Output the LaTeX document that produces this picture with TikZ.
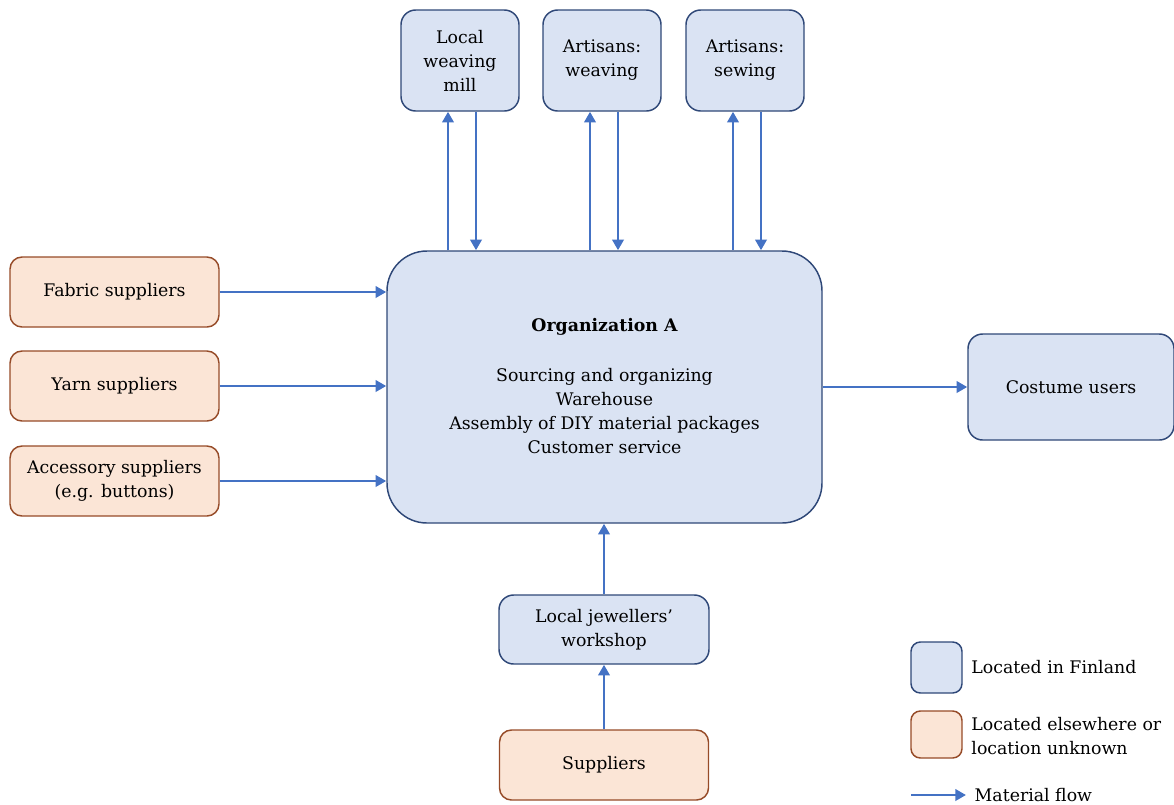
\documentclass[tikz,border=0pt]{standalone}
\usepackage{fontspec}
\setmainfont{DejaVu Serif}
\usetikzlibrary{arrows.meta,positioning}
\definecolor{fiblue}{RGB}{218,227,243}
\definecolor{fiborder}{RGB}{47,72,120}
\definecolor{elsefill}{RGB}{251,229,214}
\definecolor{elseborder}{RGB}{150,75,40}
\definecolor{flowblue}{RGB}{68,114,196}

\begin{document}
\begin{tikzpicture}[
  x=0.75pt, y=-0.75pt,
  font=\fontsize{13}{18}\selectfont,
  fin/.style={rectangle, rounded corners=11pt, draw=fiborder, fill=fiblue, line width=1.1pt, align=center, inner sep=2pt},
  away/.style={rectangle, rounded corners=9pt, draw=elseborder, fill=elsefill, line width=1.1pt, align=center, inner sep=2pt},
  topbox/.style={fin, minimum width=88.5pt, minimum height=75.75pt},
  sidebox/.style={away, minimum width=156.75pt, minimum height=52.5pt},
  flow/.style={-{Triangle[length=8pt,width=8.5pt]}, line width=2pt, flowblue}
]
\useasboundingbox (0,0) rectangle (1174,804);

% Partners in Finland
\node[topbox] (mill) at (460,60.5) {Local\\weaving\\mill};
\node[topbox] (weave) at (602,60.5) {Artisans:\\weaving};
\node[topbox] (sew) at (745,60.5) {Artisans:\\sewing};

\node[fin, rounded corners=30pt, minimum width=326.25pt, minimum height=204pt] (org) at (604.5,387) {};
\node[font=\fontsize{13}{18}\selectfont\bfseries] (orgtitle) at (604.5,327) {Organization A};
\node[align=center] (orgtasks) at (604.5,411.5) {Sourcing and organizing\\Warehouse\\Assembly of DIY material packages\\Customer service};

\node[fin, minimum width=154.5pt, minimum height=79.5pt] (users) at (1071,387) {Costume users};
\node[fin, minimum width=157.5pt, minimum height=51.75pt] (jewel) at (604,629.5) {Local jewellers'\\workshop};

% Suppliers elsewhere
\node[sidebox] (fabric) at (114.5,292) {Fabric suppliers};
\node[sidebox] (yarn) at (114.5,386) {Yarn suppliers};
\node[sidebox] (acc) at (114.5,481) {Accessory suppliers\\(e.g. buttons)};
\node[sidebox] (supp) at (604,765) {Suppliers};

% Material flows
\foreach \n in {mill,weave,sew} {
  \draw[flow] ([xshift=-9pt]\n.south |- org.north) -- ([xshift=-9pt]\n.south);
  \draw[flow] ([xshift=12pt]\n.south) -- ([xshift=12pt]\n.south |- org.north);
}
\foreach \n in {fabric,yarn,acc}
  \draw[flow] (\n.east) -- (\n.east -| org.west);
\draw[flow] (org.east |- users.west) -- (users.west);
\draw[flow] (jewel.north) -- (jewel.north |- org.south);
\draw[flow] (supp.north) -- (jewel.south);

% Legend
\node[fin, rounded corners=7pt, minimum width=38.25pt, minimum height=38.25pt] (legfin) at (936.5,667.5) {};
\node[away, rounded corners=7pt, minimum width=38.25pt, minimum height=35.25pt] (legaway) at (936.5,734.5) {};
\node[right=3pt of legfin, align=left] (legfintext) {Located in Finland};
\node[right=3pt of legaway, align=left, yshift=-1pt] (legawaytext) {Located elsewhere or\\location unknown};
\coordinate (flowstart) at (911,795);
\node[anchor=west] (flowtext) at (970,795) {Material flow};
\draw[flow] (flowstart) -- ([xshift=-3pt]flowtext.west);
\end{tikzpicture}
\end{document}
